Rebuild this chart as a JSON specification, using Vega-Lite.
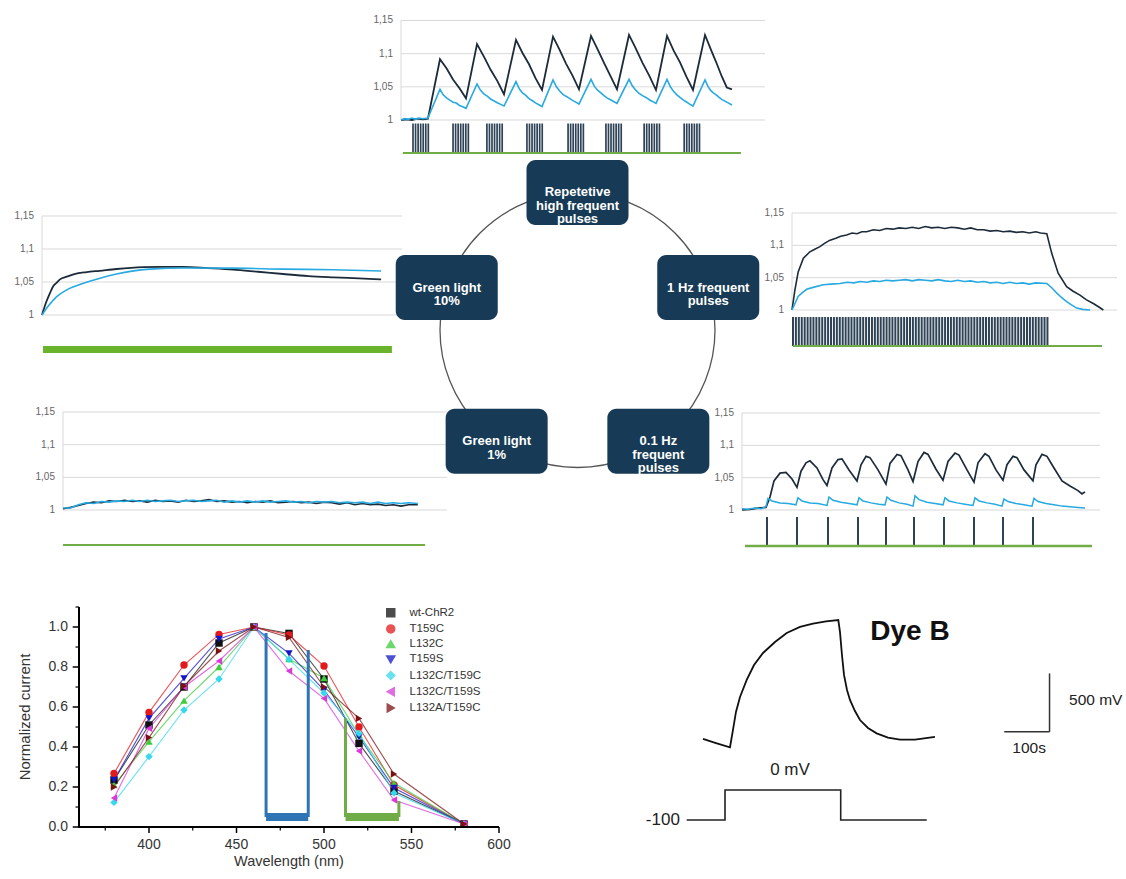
{
  "$schema": "https://vega.github.io/schema/vega-lite/v6.json",
  "width": 1126,
  "height": 879,
  "padding": 0,
  "autosize": {"type": "none"},
  "background": "white",
  "config": {"view": {"stroke": null}, "font": "Liberation Sans"},
  "resolve": {"scale": {"x": "independent", "y": "independent"}},
  "datasets": {
    "gridLevels": [{"g": 1, "lab": "1"}, {"g": 1.05, "lab": "1,05"}, {"g": 1.1, "lab": "1,1"}, {"g": 1.15, "lab": "1,15"}],
    "topDark": [
      {"t":0,"v":1.0},{"t":1.5,"v":1.001},{"t":3,"v":1.0},{"t":4.5,"v":1.002},{"t":6,"v":1.001},{"t":7.4,"v":1.002},
      {"t":10.71,"v":1.0915},{"t":12.5,"v":1.078},{"t":14.29,"v":1.061},{"t":16.07,"v":1.048},{"t":17.86,"v":1.0327},
      {"t":20.88,"v":1.1146},{"t":22.74,"v":1.096},{"t":24.59,"v":1.076},{"t":26.45,"v":1.059},{"t":28.3,"v":1.0388},
      {"t":31.59,"v":1.1207},{"t":33.38,"v":1.101},{"t":35.17,"v":1.084},{"t":36.95,"v":1.063},{"t":38.74,"v":1.0452},
      {"t":41.76,"v":1.1257},{"t":43.55,"v":1.106},{"t":45.33,"v":1.085},{"t":47.12,"v":1.067},{"t":48.9,"v":1.0463},
      {"t":52.2,"v":1.1267},{"t":53.99,"v":1.107},{"t":55.77,"v":1.086},{"t":57.56,"v":1.066},{"t":59.34,"v":1.0463},
      {"t":62.64,"v":1.1282},{"t":64.49,"v":1.108},{"t":66.35,"v":1.086},{"t":68.2,"v":1.067},{"t":70.05,"v":1.0452},
      {"t":73.08,"v":1.1267},{"t":74.87,"v":1.105},{"t":76.65,"v":1.087},{"t":78.44,"v":1.065},{"t":80.22,"v":1.0452},
      {"t":83.52,"v":1.1282},{"t":85,"v":1.108},{"t":86.6,"v":1.087},{"t":88.1,"v":1.066},{"t":89.5,"v":1.049},{"t":90.93,"v":1.0463}
    ],
    "topLight": [
      {"t":0,"v":1.0},{"t":1,"v":1.002},{"t":2,"v":1.001},{"t":3,"v":1.003},{"t":4,"v":1.001},{"t":5,"v":1.003},{"t":6,"v":1.002},{"t":7.4,"v":1.003},
      {"t":10.71,"v":1.0463},{"t":11.6,"v":1.038},{"t":12.5,"v":1.0334},{"t":13.4,"v":1.03},{"t":14.29,"v":1.0268},{"t":15.2,"v":1.0255},{"t":16.07,"v":1.0219},{"t":17,"v":1.02},{"t":17.86,"v":1.0176},
      {"t":20.88,"v":1.0543},{"t":21.8,"v":1.045},{"t":22.74,"v":1.0394},{"t":23.7,"v":1.036},{"t":24.59,"v":1.0317},{"t":25.5,"v":1.029},{"t":26.45,"v":1.0261},{"t":27.4,"v":1.0235},{"t":28.3,"v":1.0211},
      {"t":31.59,"v":1.0578},{"t":32.5,"v":1.047},{"t":33.38,"v":1.0408},{"t":34.3,"v":1.037},{"t":35.17,"v":1.0322},{"t":36.1,"v":1.029},{"t":36.95,"v":1.0258},{"t":37.9,"v":1.023},{"t":38.74,"v":1.0201},
      {"t":41.76,"v":1.0603},{"t":42.7,"v":1.05},{"t":43.55,"v":1.044},{"t":44.4,"v":1.039},{"t":45.33,"v":1.0357},{"t":46.2,"v":1.033},{"t":47.12,"v":1.0295},{"t":48,"v":1.027},{"t":48.9,"v":1.0241},
      {"t":52.2,"v":1.0613},{"t":53.1,"v":1.051},{"t":53.99,"v":1.045},{"t":54.9,"v":1.041},{"t":55.77,"v":1.0367},{"t":56.7,"v":1.033},{"t":57.56,"v":1.0305},{"t":58.4,"v":1.028},{"t":59.34,"v":1.0251},
      {"t":62.64,"v":1.0613},{"t":63.5,"v":1.052},{"t":64.49,"v":1.045},{"t":65.4,"v":1.04},{"t":66.35,"v":1.0367},{"t":67.3,"v":1.034},{"t":68.2,"v":1.0305},{"t":69.1,"v":1.028},{"t":70.05,"v":1.0251},
      {"t":73.08,"v":1.0613},{"t":74,"v":1.05},{"t":74.87,"v":1.0432},{"t":75.8,"v":1.038},{"t":76.65,"v":1.034},{"t":77.6,"v":1.03},{"t":78.44,"v":1.0271},{"t":79.3,"v":1.024},{"t":80.22,"v":1.0211},
      {"t":83.52,"v":1.0603},{"t":84.3,"v":1.051},{"t":85,"v":1.045},{"t":85.8,"v":1.041},{"t":86.6,"v":1.038},{"t":87.4,"v":1.034},{"t":88.1,"v":1.031},{"t":89.5,"v":1.027},{"t":90.93,"v":1.0226}
    ],
    "topPulses": [
      {"t":3.3},{"t":4.0},{"t":4.7},{"t":5.4},{"t":6.1},{"t":6.8},{"t":7.5},
      {"t":14.3},{"t":15.0},{"t":15.7},{"t":16.4},{"t":17.1},{"t":17.8},{"t":18.5},
      {"t":23.6},{"t":24.3},{"t":25.0},{"t":25.7},{"t":26.4},{"t":27.1},{"t":27.8},
      {"t":34.6},{"t":35.3},{"t":36.0},{"t":36.7},{"t":37.4},{"t":38.1},{"t":38.8},
      {"t":45.9},{"t":46.6},{"t":47.3},{"t":48.0},{"t":48.7},{"t":49.4},{"t":50.1},
      {"t":56.3},{"t":57.0},{"t":57.7},{"t":58.4},{"t":59.1},{"t":59.8},{"t":60.5},
      {"t":66.8},{"t":67.5},{"t":68.2},{"t":68.9},{"t":69.6},{"t":70.3},{"t":71.0},
      {"t":77.8},{"t":78.5},{"t":79.2},{"t":79.9},{"t":80.6},{"t":81.3},{"t":82.0}
    ],
    "g10Dark": [
      {"t":0,"v":1.0},{"t":1.2,"v":1.02},{"t":2.2,"v":1.033},{"t":3.14,"v":1.044},{"t":4.1,"v":1.049},{"t":5.0,"v":1.054},{"t":6.9,"v":1.058},{"t":9,"v":1.062},{"t":12.4,"v":1.065},{"t":16,"v":1.067},{"t":20.7,"v":1.0697},{"t":28.1,"v":1.0725},{"t":33,"v":1.073},{"t":39.2,"v":1.0728},{"t":46,"v":1.071},{"t":53.1,"v":1.0688},{"t":60,"v":1.0655},{"t":67,"v":1.0621},{"t":74,"v":1.059},{"t":80.9,"v":1.0571},{"t":88,"v":1.0555},{"t":94.2,"v":1.054}
    ],
    "g10Light": [
      {"t":0,"v":1.0},{"t":1.75,"v":1.0136},{"t":4.08,"v":1.0278},{"t":6.86,"v":1.038},{"t":11.5,"v":1.048},{"t":16.1,"v":1.0556},{"t":20.7,"v":1.062},{"t":25,"v":1.0665},{"t":30,"v":1.0695},{"t":39.3,"v":1.0712},{"t":53,"v":1.071},{"t":67,"v":1.0695},{"t":81,"v":1.0685},{"t":94.2,"v":1.0667}
    ],
    "g1Dark": [
      {"t":0,"v":1.002},{"t":2,"v":1.004},{"t":4,"v":1.007},{"t":6,"v":1.01},{"t":8,"v":1.012},{"t":10,"v":1.011},{"t":12,"v":1.014},{"t":14,"v":1.013},{"t":16,"v":1.015},{"t":18,"v":1.013},{"t":20,"v":1.014},{"t":22,"v":1.012},{"t":24,"v":1.015},{"t":26,"v":1.013},{"t":28,"v":1.014},{"t":30,"v":1.012},{"t":32,"v":1.015},{"t":34,"v":1.013},{"t":36,"v":1.014},{"t":38,"v":1.016},{"t":40,"v":1.013},{"t":42,"v":1.014},{"t":44,"v":1.012},{"t":46,"v":1.013},{"t":48,"v":1.011},{"t":50,"v":1.013},{"t":52,"v":1.012},{"t":54,"v":1.014},{"t":56,"v":1.011},{"t":58,"v":1.012},{"t":60,"v":1.013},{"t":62,"v":1.011},{"t":64,"v":1.012},{"t":66,"v":1.01},{"t":68,"v":1.012},{"t":70,"v":1.011},{"t":72,"v":1.009},{"t":74,"v":1.011},{"t":76,"v":1.008},{"t":78,"v":1.01},{"t":80,"v":1.008},{"t":82,"v":1.009},{"t":84,"v":1.007},{"t":86,"v":1.008},{"t":88,"v":1.006},{"t":90,"v":1.008},{"t":92.4,"v":1.008}
    ],
    "g1Light": [
      {"t":0,"v":1.003},{"t":2,"v":1.003},{"t":4,"v":1.008},{"t":6,"v":1.011},{"t":8,"v":1.01},{"t":10,"v":1.013},{"t":12,"v":1.012},{"t":14,"v":1.014},{"t":16,"v":1.013},{"t":18,"v":1.015},{"t":20,"v":1.013},{"t":22,"v":1.015},{"t":24,"v":1.013},{"t":26,"v":1.014},{"t":28,"v":1.015},{"t":30,"v":1.013},{"t":32,"v":1.014},{"t":34,"v":1.015},{"t":36,"v":1.013},{"t":38,"v":1.014},{"t":40,"v":1.015},{"t":42,"v":1.012},{"t":44,"v":1.014},{"t":46,"v":1.012},{"t":48,"v":1.014},{"t":50,"v":1.012},{"t":52,"v":1.014},{"t":54,"v":1.012},{"t":56,"v":1.013},{"t":58,"v":1.014},{"t":60,"v":1.012},{"t":62,"v":1.013},{"t":64,"v":1.011},{"t":66,"v":1.013},{"t":68,"v":1.012},{"t":70,"v":1.013},{"t":72,"v":1.011},{"t":74,"v":1.012},{"t":76,"v":1.011},{"t":78,"v":1.012},{"t":80,"v":1.01},{"t":82,"v":1.012},{"t":84,"v":1.01},{"t":86,"v":1.011},{"t":88,"v":1.01},{"t":90,"v":1.011},{"t":92.4,"v":1.01}
    ],
    "hz1Dark": [
      {"t":0,"v":1.0},{"t":0.9,"v":1.031},{"t":1.9,"v":1.059},{"t":3.5,"v":1.08},{"t":5.5,"v":1.09},{"t":7,"v":1.094},{"t":8.6,"v":1.098},{"t":10,"v":1.103},{"t":11.7,"v":1.108},{"t":13.5,"v":1.111},{"t":15,"v":1.114},{"t":16.8,"v":1.116},{"t":18.5,"v":1.119},{"t":20,"v":1.118},{"t":21.5,"v":1.121},{"t":23,"v":1.121},{"t":25,"v":1.124},{"t":27,"v":1.123},{"t":29,"v":1.126},{"t":31,"v":1.125},{"t":33,"v":1.127},{"t":35,"v":1.126},{"t":37,"v":1.128},{"t":39,"v":1.126},{"t":41,"v":1.129},{"t":43,"v":1.127},{"t":45,"v":1.128},{"t":47,"v":1.126},{"t":49,"v":1.128},{"t":51,"v":1.127},{"t":53,"v":1.125},{"t":55,"v":1.127},{"t":57,"v":1.124},{"t":59,"v":1.124},{"t":61,"v":1.122},{"t":63,"v":1.123},{"t":65,"v":1.121},{"t":67,"v":1.122},{"t":69,"v":1.12},{"t":71,"v":1.121},{"t":73,"v":1.119},{"t":75,"v":1.121},{"t":76.5,"v":1.119},{"t":78.4,"v":1.118},{"t":79.9,"v":1.088},{"t":81.9,"v":1.057},{"t":84.5,"v":1.036},{"t":86.5,"v":1.029},{"t":88.6,"v":1.023},{"t":90.5,"v":1.016},{"t":92.7,"v":1.01},{"t":94.3,"v":1.005},{"t":95.8,"v":1.0}
    ],
    "hz1Light": [
      {"t":0,"v":1.0},{"t":1.9,"v":1.021},{"t":3.2,"v":1.027},{"t":4.5,"v":1.032},{"t":6.5,"v":1.035},{"t":9.6,"v":1.039},{"t":12,"v":1.04},{"t":14.8,"v":1.041},{"t":17,"v":1.043},{"t":19,"v":1.042},{"t":21,"v":1.044},{"t":23,"v":1.043},{"t":25,"v":1.045},{"t":27,"v":1.044},{"t":29,"v":1.046},{"t":31,"v":1.045},{"t":33,"v":1.046},{"t":35,"v":1.047},{"t":37,"v":1.045},{"t":39,"v":1.047},{"t":41,"v":1.046},{"t":43,"v":1.045},{"t":45,"v":1.047},{"t":47,"v":1.045},{"t":49,"v":1.044},{"t":51,"v":1.046},{"t":53,"v":1.044},{"t":55,"v":1.045},{"t":57,"v":1.043},{"t":59,"v":1.044},{"t":61,"v":1.042},{"t":63,"v":1.043},{"t":65,"v":1.041},{"t":67,"v":1.043},{"t":69,"v":1.041},{"t":71,"v":1.042},{"t":73,"v":1.04},{"t":75,"v":1.042},{"t":78.4,"v":1.041},{"t":80,"v":1.034},{"t":81.5,"v":1.026},{"t":83,"v":1.019},{"t":84.5,"v":1.013},{"t":86,"v":1.008},{"t":87.6,"v":1.003},{"t":89.5,"v":1.001},{"t":91.7,"v":1.0}
    ],
    "hz1Pulses": [
      {"t":0.3},{"t":1.2},{"t":2.1},{"t":3.0},{"t":3.9},{"t":4.8},{"t":5.7},{"t":6.6},{"t":7.5},{"t":8.4},{"t":9.3},{"t":10.2},{"t":11.1},{"t":12.0},{"t":12.9},{"t":13.8},{"t":14.7},{"t":15.6},{"t":16.5},{"t":17.4},{"t":18.3},{"t":19.2},{"t":20.1},{"t":21.0},{"t":21.9},{"t":22.8},{"t":23.7},{"t":24.6},{"t":25.5},{"t":26.4},{"t":27.3},{"t":28.2},{"t":29.1},{"t":30.0},{"t":30.9},{"t":31.8},{"t":32.7},{"t":33.6},{"t":34.5},{"t":35.4},{"t":36.3},{"t":37.2},{"t":38.1},{"t":39.0},{"t":39.9},{"t":40.8},{"t":41.7},{"t":42.6},{"t":43.5},{"t":44.4},{"t":45.3},{"t":46.2},{"t":47.1},{"t":48.0},{"t":48.9},{"t":49.8},{"t":50.7},{"t":51.6},{"t":52.5},{"t":53.4},{"t":54.3},{"t":55.2},{"t":56.1},{"t":57.0},{"t":57.9},{"t":58.8},{"t":59.7},{"t":60.6},{"t":61.5},{"t":62.4},{"t":63.3},{"t":64.2},{"t":65.1},{"t":66.0},{"t":66.9},{"t":67.8},{"t":68.7},{"t":69.6},{"t":70.5},{"t":71.4},{"t":72.3},{"t":73.2},{"t":74.1},{"t":75.0},{"t":75.9},{"t":76.8},{"t":77.7},{"t":78.6}
    ],
    "hz01Dark": [
      {"t":0,"v":1.0},{"t":2.23,"v":1.001},{"t":4.47,"v":1.003},{"t":6.7,"v":1.004},{"t":7.82,"v":1.02},{"t":8.94,"v":1.045},{"t":10.61,"v":1.057},{"t":12.29,"v":1.058},{"t":13.97,"v":1.048},{"t":15.36,"v":1.035},
      {"t":16.48,"v":1.06},{"t":17.88,"v":1.073},{"t":18.99,"v":1.076},{"t":20.95,"v":1.065},{"t":22.63,"v":1.047},{"t":23.74,"v":1.038},
      {"t":25.14,"v":1.065},{"t":26.82,"v":1.078},{"t":27.93,"v":1.079},{"t":29.89,"v":1.062},{"t":32.12,"v":1.045},
      {"t":33.24,"v":1.07},{"t":34.64,"v":1.083},{"t":35.75,"v":1.081},{"t":37.99,"v":1.062},{"t":40.22,"v":1.04},
      {"t":41.34,"v":1.072},{"t":43.3,"v":1.086},{"t":44.41,"v":1.084},{"t":46.37,"v":1.062},{"t":47.77,"v":1.044},
      {"t":49.16,"v":1.075},{"t":50.84,"v":1.089},{"t":51.96,"v":1.086},{"t":54.19,"v":1.063},{"t":56.15,"v":1.046},
      {"t":57.54,"v":1.075},{"t":59.5,"v":1.088},{"t":60.61,"v":1.085},{"t":62.85,"v":1.062},{"t":64.8,"v":1.043},
      {"t":65.92,"v":1.073},{"t":67.88,"v":1.087},{"t":68.99,"v":1.083},{"t":70.95,"v":1.062},{"t":72.91,"v":1.046},
      {"t":74.02,"v":1.07},{"t":75.7,"v":1.083},{"t":76.82,"v":1.081},{"t":78.77,"v":1.062},{"t":81.28,"v":1.045},
      {"t":82.12,"v":1.07},{"t":83.8,"v":1.086},{"t":85.2,"v":1.083},{"t":87.15,"v":1.065},{"t":89.39,"v":1.045},{"t":91.62,"v":1.037},{"t":93.85,"v":1.03},{"t":94.97,"v":1.025},{"t":95.81,"v":1.028}
    ],
    "hz01Light": [
      {"t":0,"v":1.002},{"t":1.68,"v":1.001},{"t":3.63,"v":1.003},{"t":5.31,"v":1.002},{"t":6.7,"v":1.005},{"t":7.26,"v":1.018},{"t":8.38,"v":1.014},{"t":10.61,"v":1.011},{"t":12.85,"v":1.01},{"t":15.08,"v":1.008},
      {"t":15.64,"v":1.019},{"t":16.76,"v":1.014},{"t":18.99,"v":1.011},{"t":21.23,"v":1.01},{"t":23.74,"v":1.007},
      {"t":24.3,"v":1.02},{"t":25.42,"v":1.015},{"t":27.65,"v":1.012},{"t":29.89,"v":1.01},{"t":32.12,"v":1.008},
      {"t":32.68,"v":1.019},{"t":33.8,"v":1.014},{"t":36.03,"v":1.011},{"t":38.27,"v":1.009},{"t":39.94,"v":1.008},
      {"t":40.5,"v":1.02},{"t":41.62,"v":1.015},{"t":43.85,"v":1.011},{"t":46.09,"v":1.009},{"t":47.77,"v":1.006},
      {"t":48.32,"v":1.022},{"t":49.44,"v":1.016},{"t":51.68,"v":1.012},{"t":53.91,"v":1.01},{"t":56.15,"v":1.008},
      {"t":56.7,"v":1.019},{"t":57.82,"v":1.014},{"t":60.06,"v":1.011},{"t":62.29,"v":1.009},{"t":64.53,"v":1.007},
      {"t":65.08,"v":1.019},{"t":66.2,"v":1.014},{"t":68.44,"v":1.011},{"t":70.67,"v":1.009},{"t":72.63,"v":1.006},
      {"t":73.18,"v":1.017},{"t":74.3,"v":1.013},{"t":76.54,"v":1.01},{"t":78.77,"v":1.008},{"t":81.01,"v":1.006},
      {"t":81.56,"v":1.018},{"t":82.68,"v":1.013},{"t":84.92,"v":1.01},{"t":87.15,"v":1.008},{"t":89.39,"v":1.006},{"t":91.62,"v":1.005},{"t":93.85,"v":1.004},{"t":95.81,"v":1.003}
    ],
    "hz01Pulses": [
      {"t":6.98},{"t":15.36},{"t":24.02},{"t":32.4},{"t":40.22},{"t":48.04},{"t":56.42},{"t":64.8},{"t":72.91},{"t":81.28}
    ],
    "steps": [
      {"label": "Repetetive\nhigh frequent\npulses", "bx": 0, "by": 1},
      {"label": "1 Hz frequent\npulses", "bx": 0.951, "by": 0.309},
      {"label": "0.1 Hz\nfrequent\npulses", "bx": 0.588, "by": -0.809},
      {"label": "Green light\n1%", "bx": -0.588, "by": -0.809},
      {"label": "Green light\n10%", "bx": -0.951, "by": 0.309}
    ],
    "spectra": [
      {"series":"wt-ChR2","nm":380,"val":0.235},{"series":"wt-ChR2","nm":400,"val":0.51},{"series":"wt-ChR2","nm":420,"val":0.7},{"series":"wt-ChR2","nm":440,"val":0.92},{"series":"wt-ChR2","nm":460,"val":1.0},{"series":"wt-ChR2","nm":480,"val":0.968},{"series":"wt-ChR2","nm":500,"val":0.74},{"series":"wt-ChR2","nm":520,"val":0.418},{"series":"wt-ChR2","nm":540,"val":0.18},{"series":"wt-ChR2","nm":580,"val":0.015},
      {"series":"T159C","nm":380,"val":0.268},{"series":"T159C","nm":400,"val":0.573},{"series":"T159C","nm":420,"val":0.81},{"series":"T159C","nm":440,"val":0.963},{"series":"T159C","nm":460,"val":1.0},{"series":"T159C","nm":480,"val":0.96},{"series":"T159C","nm":500,"val":0.805},{"series":"T159C","nm":520,"val":0.5},{"series":"T159C","nm":540,"val":0.21},{"series":"T159C","nm":580,"val":0.015},
      {"series":"L132C","nm":380,"val":0.21},{"series":"L132C","nm":400,"val":0.427},{"series":"L132C","nm":420,"val":0.632},{"series":"L132C","nm":440,"val":0.8},{"series":"L132C","nm":460,"val":1.0},{"series":"L132C","nm":480,"val":0.84},{"series":"L132C","nm":500,"val":0.745},{"series":"L132C","nm":520,"val":0.46},{"series":"L132C","nm":540,"val":0.22},{"series":"L132C","nm":580,"val":0.015},
      {"series":"T159S","nm":380,"val":0.235},{"series":"T159S","nm":400,"val":0.543},{"series":"T159S","nm":420,"val":0.743},{"series":"T159S","nm":440,"val":0.94},{"series":"T159S","nm":460,"val":1.0},{"series":"T159S","nm":480,"val":0.868},{"series":"T159S","nm":500,"val":0.685},{"series":"T159S","nm":520,"val":0.45},{"series":"T159S","nm":540,"val":0.195},{"series":"T159S","nm":580,"val":0.015},
      {"series":"L132C/T159C","nm":380,"val":0.123},{"series":"L132C/T159C","nm":400,"val":0.352},{"series":"L132C/T159C","nm":420,"val":0.585},{"series":"L132C/T159C","nm":440,"val":0.74},{"series":"L132C/T159C","nm":460,"val":1.0},{"series":"L132C/T159C","nm":480,"val":0.838},{"series":"L132C/T159C","nm":500,"val":0.67},{"series":"L132C/T159C","nm":520,"val":0.468},{"series":"L132C/T159C","nm":540,"val":0.17},{"series":"L132C/T159C","nm":580,"val":0.015},
      {"series":"L132C/T159S","nm":380,"val":0.145},{"series":"L132C/T159S","nm":400,"val":0.493},{"series":"L132C/T159S","nm":420,"val":0.7},{"series":"L132C/T159S","nm":440,"val":0.83},{"series":"L132C/T159S","nm":460,"val":1.0},{"series":"L132C/T159S","nm":480,"val":0.78},{"series":"L132C/T159S","nm":500,"val":0.643},{"series":"L132C/T159S","nm":520,"val":0.38},{"series":"L132C/T159S","nm":540,"val":0.135},{"series":"L132C/T159S","nm":580,"val":0.015},
      {"series":"L132A/T159C","nm":380,"val":0.2},{"series":"L132A/T159C","nm":400,"val":0.447},{"series":"L132A/T159C","nm":420,"val":0.705},{"series":"L132A/T159C","nm":440,"val":0.88},{"series":"L132A/T159C","nm":460,"val":1.0},{"series":"L132A/T159C","nm":480,"val":0.948},{"series":"L132A/T159C","nm":500,"val":0.7},{"series":"L132A/T159C","nm":520,"val":0.543},{"series":"L132A/T159C","nm":540,"val":0.265},{"series":"L132A/T159C","nm":580,"val":0.015}
    ],
    "filterBands": [
      {"band": "blue", "from": 466.9, "to": 491},
      {"band": "green", "from": 512.3, "to": 542.8}
    ],
    "filterEdges": [
      {"band": "blue", "nm": 466.9, "top": 0.97},
      {"band": "blue", "nm": 491, "top": 0.885},
      {"band": "green", "nm": 512.3, "top": 0.543},
      {"band": "green", "nm": 542.8, "top": 0.13}
    ],
    "yTicks": [{"val": 0, "lab": "0.0"}, {"val": 0.2, "lab": "0.2"}, {"val": 0.4, "lab": "0.4"}, {"val": 0.6, "lab": "0.6"}, {"val": 0.8, "lab": "0.8"}, {"val": 1.0, "lab": "1.0"}],
    "yMinor": [{"val": 0.1}, {"val": 0.3}, {"val": 0.5}, {"val": 0.7}, {"val": 0.9}, {"val": 1.1}],
    "xTicks": [{"nm": 400}, {"nm": 450}, {"nm": 500}, {"nm": 550}, {"nm": 600}],
    "xMinor": [{"nm": 375}, {"nm": 425}, {"nm": 475}, {"nm": 525}, {"nm": 575}],
    "dyeResponse": [
      {"t":0,"mv":9},{"t":28.7,"mv":-26},{"t":59.6,"mv":-62},{"t":66.2,"mv":86},{"t":72.8,"mv":240},{"t":81.7,"mv":368},{"t":96.5,"mv":514},{"t":112.6,"mv":642},{"t":132.5,"mv":745},{"t":158.9,"mv":839},{"t":184.8,"mv":916},{"t":214.1,"mv":968},{"t":242.8,"mv":997},{"t":271.5,"mv":1015},{"t":298.7,"mv":1027},{"t":302.4,"mv":925},{"t":306.8,"mv":728},{"t":311.3,"mv":557},{"t":317.9,"mv":428},{"t":324.5,"mv":343},{"t":335.5,"mv":248},{"t":346.6,"mv":171},{"t":364.2,"mv":103},{"t":383.4,"mv":57},{"t":408.4,"mv":21},{"t":434.9,"mv":4},{"t":468,"mv":4},{"t":512.1,"mv":26}
    ],
    "dyeCommand": [
      {"i":0,"t":-36,"v":-100},{"i":1,"t":48.6,"v":-100},{"i":2,"t":48.6,"v":0},{"i":3,"t":304,"v":0},{"i":4,"t":304,"v":-100},{"i":5,"t":494,"v":-100}
    ],
    "scaleBars": [
      {"t0": 665, "t1": 765, "v0": 70, "v1": 70},
      {"t0": 765, "t1": 765, "v0": 70, "v1": 570}
    ]
  },
  "layer": [
    {"data": {"name": "gridLevels"}, "mark": {"type": "rule", "color": "#d9d9d9"},
     "encoding": {"x": {"datum": 0, "type": "quantitative", "scale": {"domain": [-110.165, 199.176], "nice": false, "zero": false}, "axis": null}, "x2": {"datum": 100},
                  "y": {"field": "g", "type": "quantitative", "scale": {"domain": [-0.14422, 1.1809], "nice": false, "zero": false}, "axis": null}}},
    {"data": {"name": "gridLevels"}, "mark": {"type": "text", "align": "right", "baseline": "middle", "dx": -8, "fontSize": 10, "color": "#666666"},
     "encoding": {"x": {"datum": 0, "type": "quantitative", "scale": {"domain": [-110.165, 199.176], "nice": false, "zero": false}, "axis": null},
                  "y": {"field": "g", "type": "quantitative", "scale": {"domain": [-0.14422, 1.1809], "nice": false, "zero": false}, "axis": null},
                  "text": {"field": "lab", "type": "nominal"}}},
    {"data": {"values": [{}]}, "mark": {"type": "rule", "color": "#d9d9d9"},
     "encoding": {"x": {"datum": 0, "type": "quantitative", "scale": {"domain": [-110.165, 199.176], "nice": false, "zero": false}, "axis": null},
                  "y": {"datum": 1, "type": "quantitative", "scale": {"domain": [-0.14422, 1.1809], "nice": false, "zero": false}, "axis": null}, "y2": {"datum": 1.15}}},
    {"data": {"name": "topDark"}, "mark": {"type": "line", "color": "#1c2b3a", "strokeWidth": 1.8},
     "encoding": {"x": {"field": "t", "type": "quantitative", "scale": {"domain": [-110.165, 199.176], "nice": false, "zero": false}, "axis": null},
                  "y": {"field": "v", "type": "quantitative", "scale": {"domain": [-0.14422, 1.1809], "nice": false, "zero": false}, "axis": null}}},
    {"data": {"name": "topLight"}, "mark": {"type": "line", "color": "#27a9e1", "strokeWidth": 1.6},
     "encoding": {"x": {"field": "t", "type": "quantitative", "scale": {"domain": [-110.165, 199.176], "nice": false, "zero": false}, "axis": null},
                  "y": {"field": "v", "type": "quantitative", "scale": {"domain": [-0.14422, 1.1809], "nice": false, "zero": false}, "axis": null}}},
    {"data": {"name": "topPulses"}, "mark": {"type": "rule", "color": "#2f4356", "strokeWidth": 1.7},
     "encoding": {"x": {"field": "t", "type": "quantitative", "scale": {"domain": [-110.165, 199.176], "nice": false, "zero": false}, "axis": null},
                  "y": {"datum": 0, "type": "quantitative", "scale": {"domain": [-24.61, 5.1864], "nice": false, "zero": false}, "axis": null}, "y2": {"datum": 1}}},
    {"data": {"values": [{"on": 0.5, "off": 93.4}]}, "mark": {"type": "rule", "color": "#70ad47", "strokeWidth": 2},
     "encoding": {"x": {"field": "on", "type": "quantitative", "scale": {"domain": [-110.165, 199.176], "nice": false, "zero": false}, "axis": null}, "x2": {"field": "off"},
                  "y": {"datum": 0, "type": "quantitative", "scale": {"domain": [-24.61, 5.1864], "nice": false, "zero": false}, "axis": null}}},

    {"data": {"name": "gridLevels"}, "mark": {"type": "rule", "color": "#d9d9d9"},
     "encoding": {"x": {"datum": 0, "type": "quantitative", "scale": {"domain": [-11.667, 301.111], "nice": false, "zero": false}, "axis": null}, "x2": {"datum": 100},
                  "y": {"field": "g", "type": "quantitative", "scale": {"domain": [0.14545, 1.47727], "nice": false, "zero": false}, "axis": null}}},
    {"data": {"name": "gridLevels"}, "mark": {"type": "text", "align": "right", "baseline": "middle", "dx": -8, "fontSize": 10, "color": "#666666"},
     "encoding": {"x": {"datum": 0, "type": "quantitative", "scale": {"domain": [-11.667, 301.111], "nice": false, "zero": false}, "axis": null},
                  "y": {"field": "g", "type": "quantitative", "scale": {"domain": [0.14545, 1.47727], "nice": false, "zero": false}, "axis": null},
                  "text": {"field": "lab", "type": "nominal"}}},
    {"data": {"values": [{}]}, "mark": {"type": "rule", "color": "#d9d9d9"},
     "encoding": {"x": {"datum": 0, "type": "quantitative", "scale": {"domain": [-11.667, 301.111], "nice": false, "zero": false}, "axis": null},
                  "y": {"datum": 1, "type": "quantitative", "scale": {"domain": [0.14545, 1.47727], "nice": false, "zero": false}, "axis": null}, "y2": {"datum": 1.15}}},
    {"data": {"name": "g10Dark"}, "mark": {"type": "line", "color": "#1c2b3a", "strokeWidth": 1.8, "interpolate": "monotone"},
     "encoding": {"x": {"field": "t", "type": "quantitative", "scale": {"domain": [-11.667, 301.111], "nice": false, "zero": false}, "axis": null},
                  "y": {"field": "v", "type": "quantitative", "scale": {"domain": [0.14545, 1.47727], "nice": false, "zero": false}, "axis": null}}},
    {"data": {"name": "g10Light"}, "mark": {"type": "line", "color": "#27a9e1", "strokeWidth": 1.6, "interpolate": "monotone"},
     "encoding": {"x": {"field": "t", "type": "quantitative", "scale": {"domain": [-11.667, 301.111], "nice": false, "zero": false}, "axis": null},
                  "y": {"field": "v", "type": "quantitative", "scale": {"domain": [0.14545, 1.47727], "nice": false, "zero": false}, "axis": null}}},
    {"data": {"values": [{"on": 0.28, "off": 97.2}]}, "mark": {"type": "rule", "color": "#6ab42d", "strokeWidth": 7},
     "encoding": {"x": {"field": "on", "type": "quantitative", "scale": {"domain": [-11.667, 301.111], "nice": false, "zero": false}, "axis": null}, "x2": {"field": "off"},
                  "y": {"datum": 0, "type": "quantitative", "scale": {"domain": [-17.949, 11.847], "nice": false, "zero": false}, "axis": null}}},

    {"data": {"name": "gridLevels"}, "mark": {"type": "rule", "color": "#d9d9d9"},
     "encoding": {"x": {"datum": 0, "type": "quantitative", "scale": {"domain": [-16.406, 276.823], "nice": false, "zero": false}, "axis": null}, "x2": {"datum": 100},
                  "y": {"field": "g", "type": "quantitative", "scale": {"domain": [0.4352, 1.78061], "nice": false, "zero": false}, "axis": null}}},
    {"data": {"name": "gridLevels"}, "mark": {"type": "text", "align": "right", "baseline": "middle", "dx": -8, "fontSize": 10, "color": "#666666"},
     "encoding": {"x": {"datum": 0, "type": "quantitative", "scale": {"domain": [-16.406, 276.823], "nice": false, "zero": false}, "axis": null},
                  "y": {"field": "g", "type": "quantitative", "scale": {"domain": [0.4352, 1.78061], "nice": false, "zero": false}, "axis": null},
                  "text": {"field": "lab", "type": "nominal"}}},
    {"data": {"values": [{}]}, "mark": {"type": "rule", "color": "#d9d9d9"},
     "encoding": {"x": {"datum": 0, "type": "quantitative", "scale": {"domain": [-16.406, 276.823], "nice": false, "zero": false}, "axis": null},
                  "y": {"datum": 1, "type": "quantitative", "scale": {"domain": [0.4352, 1.78061], "nice": false, "zero": false}, "axis": null}, "y2": {"datum": 1.15}}},
    {"data": {"name": "g1Dark"}, "mark": {"type": "line", "color": "#1c2b3a", "strokeWidth": 1.6},
     "encoding": {"x": {"field": "t", "type": "quantitative", "scale": {"domain": [-16.406, 276.823], "nice": false, "zero": false}, "axis": null},
                  "y": {"field": "v", "type": "quantitative", "scale": {"domain": [0.4352, 1.78061], "nice": false, "zero": false}, "axis": null}}},
    {"data": {"name": "g1Light"}, "mark": {"type": "line", "color": "#27a9e1", "strokeWidth": 1.6},
     "encoding": {"x": {"field": "t", "type": "quantitative", "scale": {"domain": [-16.406, 276.823], "nice": false, "zero": false}, "axis": null},
                  "y": {"field": "v", "type": "quantitative", "scale": {"domain": [0.4352, 1.78061], "nice": false, "zero": false}, "axis": null}}},
    {"data": {"values": [{"on": 0, "off": 94.3}]}, "mark": {"type": "rule", "color": "#70ad47", "strokeWidth": 2},
     "encoding": {"x": {"field": "on", "type": "quantitative", "scale": {"domain": [-16.406, 276.823], "nice": false, "zero": false}, "axis": null}, "x2": {"field": "off"},
                  "y": {"datum": 0, "type": "quantitative", "scale": {"domain": [-11.322, 18.475], "nice": false, "zero": false}, "axis": null}}},

    {"data": {"name": "gridLevels"}, "mark": {"type": "rule", "color": "#d9d9d9"},
     "encoding": {"x": {"datum": 0, "type": "quantitative", "scale": {"domain": [-243.692, 102.769], "nice": false, "zero": false}, "axis": null}, "x2": {"datum": 100},
                  "y": {"field": "g", "type": "quantitative", "scale": {"domain": [0.12011, 1.47938], "nice": false, "zero": false}, "axis": null}}},
    {"data": {"name": "gridLevels"}, "mark": {"type": "text", "align": "right", "baseline": "middle", "dx": -8, "fontSize": 10, "color": "#666666"},
     "encoding": {"x": {"datum": 0, "type": "quantitative", "scale": {"domain": [-243.692, 102.769], "nice": false, "zero": false}, "axis": null},
                  "y": {"field": "g", "type": "quantitative", "scale": {"domain": [0.12011, 1.47938], "nice": false, "zero": false}, "axis": null},
                  "text": {"field": "lab", "type": "nominal"}}},
    {"data": {"values": [{}]}, "mark": {"type": "rule", "color": "#d9d9d9"},
     "encoding": {"x": {"datum": 0, "type": "quantitative", "scale": {"domain": [-243.692, 102.769], "nice": false, "zero": false}, "axis": null},
                  "y": {"datum": 1, "type": "quantitative", "scale": {"domain": [0.12011, 1.47938], "nice": false, "zero": false}, "axis": null}, "y2": {"datum": 1.15}}},
    {"data": {"name": "hz1Dark"}, "mark": {"type": "line", "color": "#1c2b3a", "strokeWidth": 1.6},
     "encoding": {"x": {"field": "t", "type": "quantitative", "scale": {"domain": [-243.692, 102.769], "nice": false, "zero": false}, "axis": null},
                  "y": {"field": "v", "type": "quantitative", "scale": {"domain": [0.12011, 1.47938], "nice": false, "zero": false}, "axis": null}}},
    {"data": {"name": "hz1Light"}, "mark": {"type": "line", "color": "#27a9e1", "strokeWidth": 1.6},
     "encoding": {"x": {"field": "t", "type": "quantitative", "scale": {"domain": [-243.692, 102.769], "nice": false, "zero": false}, "axis": null},
                  "y": {"field": "v", "type": "quantitative", "scale": {"domain": [0.12011, 1.47938], "nice": false, "zero": false}, "axis": null}}},
    {"data": {"name": "hz1Pulses"}, "mark": {"type": "rule", "color": "#2f4356", "strokeWidth": 2},
     "encoding": {"x": {"field": "t", "type": "quantitative", "scale": {"domain": [-243.692, 102.769], "nice": false, "zero": false}, "axis": null},
                  "y": {"datum": 0, "type": "quantitative", "scale": {"domain": [-18.379, 11.931], "nice": false, "zero": false}, "axis": null}, "y2": {"datum": 1}}},
    {"data": {"values": [{"on": 0.3, "off": 95.4}]}, "mark": {"type": "rule", "color": "#70ad47", "strokeWidth": 2},
     "encoding": {"x": {"field": "on", "type": "quantitative", "scale": {"domain": [-243.692, 102.769], "nice": false, "zero": false}, "axis": null}, "x2": {"field": "off"},
                  "y": {"datum": 0, "type": "quantitative", "scale": {"domain": [-18.379, 11.931], "nice": false, "zero": false}, "axis": null}}},

    {"data": {"name": "gridLevels"}, "mark": {"type": "rule", "color": "#d9d9d9"},
     "encoding": {"x": {"datum": 0, "type": "quantitative", "scale": {"domain": [-207.263, 107.263], "nice": false, "zero": false}, "axis": null}, "x2": {"datum": 100},
                  "y": {"field": "g", "type": "quantitative", "scale": {"domain": [0.42938, 1.78866], "nice": false, "zero": false}, "axis": null}}},
    {"data": {"name": "gridLevels"}, "mark": {"type": "text", "align": "right", "baseline": "middle", "dx": -8, "fontSize": 10, "color": "#666666"},
     "encoding": {"x": {"datum": 0, "type": "quantitative", "scale": {"domain": [-207.263, 107.263], "nice": false, "zero": false}, "axis": null},
                  "y": {"field": "g", "type": "quantitative", "scale": {"domain": [0.42938, 1.78866], "nice": false, "zero": false}, "axis": null},
                  "text": {"field": "lab", "type": "nominal"}}},
    {"data": {"values": [{}]}, "mark": {"type": "rule", "color": "#d9d9d9"},
     "encoding": {"x": {"datum": 0, "type": "quantitative", "scale": {"domain": [-207.263, 107.263], "nice": false, "zero": false}, "axis": null},
                  "y": {"datum": 1, "type": "quantitative", "scale": {"domain": [0.42938, 1.78866], "nice": false, "zero": false}, "axis": null}, "y2": {"datum": 1.15}}},
    {"data": {"name": "hz01Dark"}, "mark": {"type": "line", "color": "#1c2b3a", "strokeWidth": 1.7},
     "encoding": {"x": {"field": "t", "type": "quantitative", "scale": {"domain": [-207.263, 107.263], "nice": false, "zero": false}, "axis": null},
                  "y": {"field": "v", "type": "quantitative", "scale": {"domain": [0.42938, 1.78866], "nice": false, "zero": false}, "axis": null}}},
    {"data": {"name": "hz01Light"}, "mark": {"type": "line", "color": "#27a9e1", "strokeWidth": 1.5},
     "encoding": {"x": {"field": "t", "type": "quantitative", "scale": {"domain": [-207.263, 107.263], "nice": false, "zero": false}, "axis": null},
                  "y": {"field": "v", "type": "quantitative", "scale": {"domain": [0.42938, 1.78866], "nice": false, "zero": false}, "axis": null}}},
    {"data": {"name": "hz01Pulses"}, "mark": {"type": "rule", "color": "#2f4356", "strokeWidth": 2},
     "encoding": {"x": {"field": "t", "type": "quantitative", "scale": {"domain": [-207.263, 107.263], "nice": false, "zero": false}, "axis": null},
                  "y": {"datum": 0, "type": "quantitative", "scale": {"domain": [-11.483, 18.828], "nice": false, "zero": false}, "axis": null}, "y2": {"datum": 1}}},
    {"data": {"values": [{"on": 0.84, "off": 97.77}]}, "mark": {"type": "rule", "color": "#70ad47", "strokeWidth": 2.5},
     "encoding": {"x": {"field": "on", "type": "quantitative", "scale": {"domain": [-207.263, 107.263], "nice": false, "zero": false}, "axis": null}, "x2": {"field": "off"},
                  "y": {"datum": 0, "type": "quantitative", "scale": {"domain": [-11.483, 18.828], "nice": false, "zero": false}, "axis": null}}},

    {"data": {"values": [{"cx": 0, "cy": 0}]},
     "mark": {"type": "point", "shape": "circle", "size": 75625, "filled": false, "color": "#555555", "strokeWidth": 1.3, "opacity": 1},
     "encoding": {"x": {"field": "cx", "type": "quantitative", "scale": {"domain": [-4.2, 3.98909], "nice": false, "zero": false}, "axis": null},
                  "y": {"field": "cy", "type": "quantitative", "scale": {"domain": [-3.99273, 2.4], "nice": false, "zero": false}, "axis": null}}},
    {"data": {"name": "steps"},
     "mark": {"type": "point", "shape": "M-0.824,-0.637H0.824A0.176,0.176,0,0,1,1,-0.461V0.461A0.176,0.176,0,0,1,0.824,0.637H-0.824A0.176,0.176,0,0,1,-1,0.461V-0.461A0.176,0.176,0,0,1,-0.824,-0.637Z", "size": 10404, "filled": true, "color": "#173b56", "strokeWidth": 0, "opacity": 1},
     "encoding": {"x": {"field": "bx", "type": "quantitative", "scale": {"domain": [-4.2, 3.98909], "nice": false, "zero": false}, "axis": null},
                  "y": {"field": "by", "type": "quantitative", "scale": {"domain": [-3.99273, 2.4], "nice": false, "zero": false}, "axis": null}}},
    {"data": {"name": "steps"},
     "mark": {"type": "text", "lineBreak": "\n", "color": "#ffffff", "fontWeight": "bold", "fontSize": 13, "lineHeight": 13.5, "align": "center", "baseline": "middle"},
     "encoding": {"x": {"field": "bx", "type": "quantitative", "scale": {"domain": [-4.2, 3.98909], "nice": false, "zero": false}, "axis": null},
                  "y": {"field": "by", "type": "quantitative", "scale": {"domain": [-3.99273, 2.4], "nice": false, "zero": false}, "axis": null},
                  "text": {"field": "label", "type": "nominal"}}},

    {"data": {"name": "spectra"}, "mark": {"type": "line", "strokeWidth": 1.1, "opacity": 0.75},
     "encoding": {"x": {"field": "nm", "type": "quantitative", "scale": {"domain": [314.857, 958.286], "nice": false, "zero": false}, "axis": null},
                  "y": {"field": "val", "type": "quantitative", "scale": {"domain": [-0.26, 4.135], "nice": false, "zero": false}, "axis": null},
                  "color": {"field": "series", "type": "nominal",
                            "scale": {"domain": ["wt-ChR2", "T159C", "L132C", "T159S", "L132C/T159C", "L132C/T159S", "L132A/T159C"],
                                      "range": ["#111111", "#e31a1c", "#3ccc3c", "#1515c8", "#35d8ec", "#d83ad8", "#7b1212"]},
                            "legend": {"orient": "none", "legendX": 385, "legendY": 607, "title": null, "padding": 0, "rowPadding": 1.2, "symbolSize": 64, "labelFontSize": 11.5, "labelColor": "#333333", "labelOffset": 13}}}},
    {"data": {"name": "filterBands"}, "transform": [{"filter": "datum.band === 'blue'"}], "mark": {"type": "rule", "color": "#2e75b6", "strokeWidth": 8},
     "encoding": {"x": {"field": "from", "type": "quantitative", "scale": {"domain": [314.857, 958.286], "nice": false, "zero": false}, "axis": null}, "x2": {"field": "to"},
                  "y": {"datum": 0.05, "type": "quantitative", "scale": {"domain": [-0.26, 4.135], "nice": false, "zero": false}, "axis": null}}},
    {"data": {"name": "filterBands"}, "transform": [{"filter": "datum.band === 'green'"}], "mark": {"type": "rule", "color": "#70ad47", "strokeWidth": 8},
     "encoding": {"x": {"field": "from", "type": "quantitative", "scale": {"domain": [314.857, 958.286], "nice": false, "zero": false}, "axis": null}, "x2": {"field": "to"},
                  "y": {"datum": 0.05, "type": "quantitative", "scale": {"domain": [-0.26, 4.135], "nice": false, "zero": false}, "axis": null}}},
    {"data": {"name": "filterEdges"}, "transform": [{"filter": "datum.band === 'blue'"}], "mark": {"type": "rule", "color": "#2e75b6", "strokeWidth": 3},
     "encoding": {"x": {"field": "nm", "type": "quantitative", "scale": {"domain": [314.857, 958.286], "nice": false, "zero": false}, "axis": null},
                  "y": {"field": "top", "type": "quantitative", "scale": {"domain": [-0.26, 4.135], "nice": false, "zero": false}, "axis": null}, "y2": {"datum": 0.05}}},
    {"data": {"name": "filterEdges"}, "transform": [{"filter": "datum.band === 'green'"}], "mark": {"type": "rule", "color": "#70ad47", "strokeWidth": 3},
     "encoding": {"x": {"field": "nm", "type": "quantitative", "scale": {"domain": [314.857, 958.286], "nice": false, "zero": false}, "axis": null},
                  "y": {"field": "top", "type": "quantitative", "scale": {"domain": [-0.26, 4.135], "nice": false, "zero": false}, "axis": null}, "y2": {"datum": 0.05}}},
    {"data": {"name": "spectra"}, "mark": {"type": "point", "filled": true, "size": 55, "opacity": 1},
     "encoding": {"x": {"field": "nm", "type": "quantitative", "scale": {"domain": [314.857, 958.286], "nice": false, "zero": false}, "axis": null},
                  "y": {"field": "val", "type": "quantitative", "scale": {"domain": [-0.26, 4.135], "nice": false, "zero": false}, "axis": null},
                  "color": {"field": "series", "type": "nominal",
                            "scale": {"domain": ["wt-ChR2", "T159C", "L132C", "T159S", "L132C/T159C", "L132C/T159S", "L132A/T159C"],
                                      "range": ["#111111", "#e31a1c", "#3ccc3c", "#1515c8", "#35d8ec", "#d83ad8", "#7b1212"]},
                            "legend": {"orient": "none", "legendX": 385, "legendY": 607, "title": null, "padding": 0, "rowPadding": 1.2, "symbolSize": 64, "labelFontSize": 11.5, "labelColor": "#333333", "labelOffset": 13}},
                  "shape": {"field": "series", "type": "nominal",
                            "scale": {"domain": ["wt-ChR2", "T159C", "L132C", "T159S", "L132C/T159C", "L132C/T159S", "L132A/T159C"],
                                      "range": ["square", "circle", "triangle-up", "triangle-down", "diamond", "triangle-left", "triangle-right"]},
                            "legend": {"orient": "none", "legendX": 385, "legendY": 607, "title": null, "padding": 0, "rowPadding": 1.2, "symbolSize": 64, "labelFontSize": 11.5, "labelColor": "#333333", "labelOffset": 13}}}},
    {"data": {"values": [{}]}, "mark": {"type": "rule", "color": "#000000", "strokeWidth": 2},
     "encoding": {"x": {"datum": 360, "type": "quantitative", "scale": {"domain": [314.857, 958.286], "nice": false, "zero": false}, "axis": null},
                  "y": {"datum": 0, "type": "quantitative", "scale": {"domain": [-0.26, 4.135], "nice": false, "zero": false}, "axis": null}, "y2": {"datum": 1.1}}},
    {"data": {"values": [{}]}, "mark": {"type": "rule", "color": "#000000", "strokeWidth": 2},
     "encoding": {"x": {"datum": 359.4, "type": "quantitative", "scale": {"domain": [314.857, 958.286], "nice": false, "zero": false}, "axis": null}, "x2": {"datum": 600},
                  "y": {"datum": 0, "type": "quantitative", "scale": {"domain": [-0.26, 4.135], "nice": false, "zero": false}, "axis": null}}},
    {"data": {"name": "yTicks"}, "mark": {"type": "rule", "color": "#000000", "strokeWidth": 1.5},
     "encoding": {"x": {"datum": 356.4, "type": "quantitative", "scale": {"domain": [314.857, 958.286], "nice": false, "zero": false}, "axis": null}, "x2": {"datum": 360},
                  "y": {"field": "val", "type": "quantitative", "scale": {"domain": [-0.26, 4.135], "nice": false, "zero": false}, "axis": null}}},
    {"data": {"name": "yMinor"}, "mark": {"type": "rule", "color": "#000000", "strokeWidth": 1.2},
     "encoding": {"x": {"datum": 358, "type": "quantitative", "scale": {"domain": [314.857, 958.286], "nice": false, "zero": false}, "axis": null}, "x2": {"datum": 360},
                  "y": {"field": "val", "type": "quantitative", "scale": {"domain": [-0.26, 4.135], "nice": false, "zero": false}, "axis": null}}},
    {"data": {"name": "yTicks"}, "mark": {"type": "text", "align": "right", "baseline": "middle", "dx": -11, "fontSize": 14, "color": "#333333"},
     "encoding": {"x": {"datum": 360, "type": "quantitative", "scale": {"domain": [314.857, 958.286], "nice": false, "zero": false}, "axis": null},
                  "y": {"field": "val", "type": "quantitative", "scale": {"domain": [-0.26, 4.135], "nice": false, "zero": false}, "axis": null},
                  "text": {"field": "lab", "type": "nominal"}}},
    {"data": {"name": "xTicks"}, "mark": {"type": "rule", "color": "#000000", "strokeWidth": 1.5},
     "encoding": {"x": {"field": "nm", "type": "quantitative", "scale": {"domain": [314.857, 958.286], "nice": false, "zero": false}, "axis": null},
                  "y": {"datum": 0, "type": "quantitative", "scale": {"domain": [-0.26, 4.135], "nice": false, "zero": false}, "axis": null}, "y2": {"datum": -0.03}}},
    {"data": {"name": "xMinor"}, "mark": {"type": "rule", "color": "#000000", "strokeWidth": 1.2},
     "encoding": {"x": {"field": "nm", "type": "quantitative", "scale": {"domain": [314.857, 958.286], "nice": false, "zero": false}, "axis": null},
                  "y": {"datum": 0, "type": "quantitative", "scale": {"domain": [-0.26, 4.135], "nice": false, "zero": false}, "axis": null}, "y2": {"datum": -0.018}}},
    {"data": {"name": "xTicks"}, "mark": {"type": "text", "align": "center", "baseline": "middle", "dy": 18, "fontSize": 14, "color": "#333333"},
     "encoding": {"x": {"field": "nm", "type": "quantitative", "scale": {"domain": [314.857, 958.286], "nice": false, "zero": false}, "axis": null},
                  "y": {"datum": 0, "type": "quantitative", "scale": {"domain": [-0.26, 4.135], "nice": false, "zero": false}, "axis": null},
                  "text": {"field": "nm", "type": "quantitative"}}},
    {"data": {"values": [{"title": "Normalized current", "nm": 329.1, "val": 0.55}]}, "mark": {"type": "text", "align": "center", "baseline": "middle", "angle": 270, "fontSize": 15, "color": "#333333"},
     "encoding": {"x": {"field": "nm", "type": "quantitative", "scale": {"domain": [314.857, 958.286], "nice": false, "zero": false}, "axis": null},
                  "y": {"field": "val", "type": "quantitative", "scale": {"domain": [-0.26, 4.135], "nice": false, "zero": false}, "axis": null},
                  "text": {"field": "title", "type": "nominal"}}},
    {"data": {"values": [{"title": "Wavelength (nm)", "nm": 480, "val": -0.175}]}, "mark": {"type": "text", "align": "center", "baseline": "middle", "fontSize": 14.5, "color": "#333333"},
     "encoding": {"x": {"field": "nm", "type": "quantitative", "scale": {"domain": [314.857, 958.286], "nice": false, "zero": false}, "axis": null},
                  "y": {"field": "val", "type": "quantitative", "scale": {"domain": [-0.26, 4.135], "nice": false, "zero": false}, "axis": null},
                  "text": {"field": "title", "type": "nominal"}}},

    {"data": {"name": "dyeCommand"}, "mark": {"type": "line", "color": "#222222", "strokeWidth": 1.6},
     "encoding": {"x": {"field": "t", "type": "quantitative", "scale": {"domain": [-1551.9, 933.8], "nice": false, "zero": false}, "axis": null},
                  "y": {"field": "v", "type": "quantitative", "scale": {"domain": [-296.67, 2633.3], "nice": false, "zero": false}, "axis": null},
                  "order": {"field": "i", "type": "quantitative"}}},
    {"data": {"values": [{"label": "-100", "t": -51, "v": -100}]}, "mark": {"type": "text", "align": "right", "baseline": "middle", "fontSize": 17, "color": "#222222"},
     "encoding": {"x": {"field": "t", "type": "quantitative", "scale": {"domain": [-1551.9, 933.8], "nice": false, "zero": false}, "axis": null},
                  "y": {"field": "v", "type": "quantitative", "scale": {"domain": [-296.67, 2633.3], "nice": false, "zero": false}, "axis": null},
                  "text": {"field": "label", "type": "nominal"}}},
    {"data": {"values": [{"label": "0 mV", "t": 192, "v": 67}]}, "mark": {"type": "text", "align": "center", "baseline": "middle", "fontSize": 17, "color": "#222222"},
     "encoding": {"x": {"field": "t", "type": "quantitative", "scale": {"domain": [-1551.9, 933.8], "nice": false, "zero": false}, "axis": null},
                  "y": {"field": "v", "type": "quantitative", "scale": {"domain": [-296.67, 2633.3], "nice": false, "zero": false}, "axis": null},
                  "text": {"field": "label", "type": "nominal"}}},
    {"data": {"name": "dyeResponse"}, "mark": {"type": "line", "color": "#111111", "strokeWidth": 1.8},
     "encoding": {"x": {"field": "t", "type": "quantitative", "scale": {"domain": [-1551.9, 933.8], "nice": false, "zero": false}, "axis": null},
                  "y": {"field": "mv", "type": "quantitative", "scale": {"domain": [-1190.1, 6335.6], "nice": false, "zero": false}, "axis": null}}},
    {"data": {"name": "scaleBars"}, "mark": {"type": "rule", "color": "#333333", "strokeWidth": 1.5},
     "encoding": {"x": {"field": "t0", "type": "quantitative", "scale": {"domain": [-1551.9, 933.8], "nice": false, "zero": false}, "axis": null}, "x2": {"field": "t1"},
                  "y": {"field": "v0", "type": "quantitative", "scale": {"domain": [-1190.1, 6335.6], "nice": false, "zero": false}, "axis": null}, "y2": {"field": "v1"}}},
    {"data": {"values": [{"label": "500 mV", "t": 808, "mv": 345}]}, "mark": {"type": "text", "align": "left", "baseline": "middle", "fontSize": 15.5, "color": "#222222"},
     "encoding": {"x": {"field": "t", "type": "quantitative", "scale": {"domain": [-1551.9, 933.8], "nice": false, "zero": false}, "axis": null},
                  "y": {"field": "mv", "type": "quantitative", "scale": {"domain": [-1190.1, 6335.6], "nice": false, "zero": false}, "axis": null},
                  "text": {"field": "label", "type": "nominal"}}},
    {"data": {"values": [{"label": "100s", "t": 720, "mv": -68}]}, "mark": {"type": "text", "align": "center", "baseline": "middle", "fontSize": 15.5, "color": "#222222"},
     "encoding": {"x": {"field": "t", "type": "quantitative", "scale": {"domain": [-1551.9, 933.8], "nice": false, "zero": false}, "axis": null},
                  "y": {"field": "mv", "type": "quantitative", "scale": {"domain": [-1190.1, 6335.6], "nice": false, "zero": false}, "axis": null},
                  "text": {"field": "label", "type": "nominal"}}},
    {"data": {"values": [{"label": "Dye B", "t": 457, "mv": 925}]}, "mark": {"type": "text", "align": "center", "baseline": "middle", "fontSize": 28, "fontWeight": "bold", "color": "#111111"},
     "encoding": {"x": {"field": "t", "type": "quantitative", "scale": {"domain": [-1551.9, 933.8], "nice": false, "zero": false}, "axis": null},
                  "y": {"field": "mv", "type": "quantitative", "scale": {"domain": [-1190.1, 6335.6], "nice": false, "zero": false}, "axis": null},
                  "text": {"field": "label", "type": "nominal"}}}
  ]
}
